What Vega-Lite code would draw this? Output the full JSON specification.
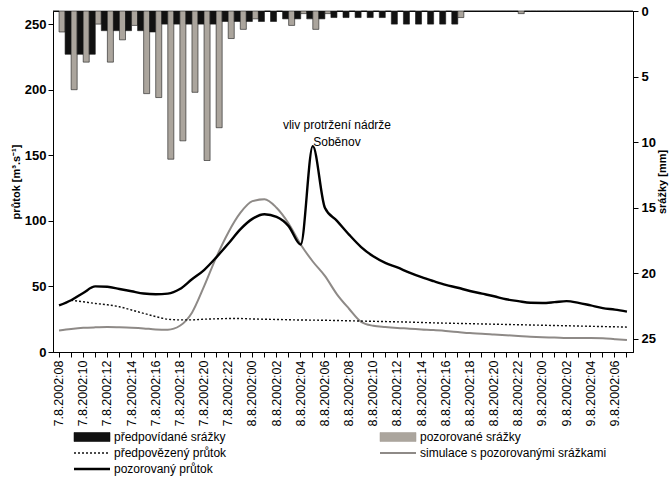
{
  "$schema": "https://vega.github.io/schema/vega-lite/v6.json",
  "width": 580,
  "height": 341,
  "autosize": {"type": "none"},
  "padding": {"left": 53, "top": 11, "right": 37, "bottom": 125},
  "background": "white",
  "config": {
    "font": "Liberation Sans",
    "view": {"stroke": "#000", "strokeWidth": 1},
    "axis": {
      "grid": false,
      "domainColor": "#000",
      "tickColor": "#000",
      "labelColor": "#000",
      "titleColor": "#000",
      "labelFont": "Liberation Sans",
      "titleFont": "Liberation Sans"
    }
  },
  "data": {
    "values": [
      {"t": "7.8.2002:08", "předpovídané srážky": 0, "pozorované srážky": 1.6, "obs": 35.5, "pred": null, "sim": 16.3},
      {"t": "7.8.2002:09", "předpovídané srážky": 3.3, "pozorované srážky": 6.0, "obs": 39.5, "pred": 39.5, "sim": 17.5},
      {"t": "7.8.2002:10", "předpovídané srážky": 3.3, "pozorované srážky": 3.9, "obs": 45, "pred": 38.3, "sim": 18.4},
      {"t": "7.8.2002:11", "předpovídané srážky": 3.3, "pozorované srážky": 1.0, "obs": 50, "pred": 37, "sim": 18.8},
      {"t": "7.8.2002:12", "předpovídané srážky": 1.5, "pozorované srážky": 3.9, "obs": 49.8, "pred": 36, "sim": 19},
      {"t": "7.8.2002:13", "předpovídané srážky": 1.5, "pozorované srážky": 2.2, "obs": 48, "pred": 34.5, "sim": 18.8},
      {"t": "7.8.2002:14", "předpovídané srážky": 1.5, "pozorované srážky": 1.1, "obs": 46.3, "pred": 32, "sim": 18.5},
      {"t": "7.8.2002:15", "předpovídané srážky": 1.5, "pozorované srážky": 6.3, "obs": 44.6, "pred": 29.5, "sim": 18},
      {"t": "7.8.2002:16", "předpovídané srážky": 1.6, "pozorované srážky": 6.6, "obs": 44, "pred": 27, "sim": 17.2},
      {"t": "7.8.2002:17", "předpovídané srážky": 1.0, "pozorované srážky": 11.3, "obs": 44.5, "pred": 25, "sim": 17},
      {"t": "7.8.2002:18", "předpovídané srážky": 1.0, "pozorované srážky": 9.9, "obs": 48, "pred": 24.5, "sim": 20},
      {"t": "7.8.2002:19", "předpovídané srážky": 1.0, "pozorované srážky": 6.2, "obs": 55.5, "pred": 24.5, "sim": 30},
      {"t": "7.8.2002:20", "předpovídané srážky": 1.0, "pozorované srážky": 11.4, "obs": 62.5, "pred": 25, "sim": 50},
      {"t": "7.8.2002:21", "předpovídané srážky": 1.0, "pozorované srážky": 8.9, "obs": 72, "pred": 25.3, "sim": 72},
      {"t": "7.8.2002:22", "předpovídané srážky": 0.8, "pozorované srážky": 2.1, "obs": 82.5, "pred": 25.5, "sim": 91},
      {"t": "7.8.2002:23", "předpovídané srážky": 0.8, "pozorované srážky": 1.4, "obs": 93.5, "pred": 25.5, "sim": 106},
      {"t": "8.8.2002:00", "předpovídané srážky": 0.8, "pozorované srážky": 0.6, "obs": 101.5, "pred": 25.2, "sim": 115},
      {"t": "8.8.2002:01", "předpovídané srážky": 0.8, "pozorované srážky": 0, "obs": 105, "pred": 25, "sim": 116.5},
      {"t": "8.8.2002:02", "předpovídané srážky": 0.8, "pozorované srážky": 0, "obs": 103, "pred": 24.8, "sim": 110},
      {"t": "8.8.2002:03", "předpovídané srážky": 0.6, "pozorované srážky": 1.1, "obs": 96, "pred": 24.6, "sim": 98},
      {"t": "8.8.2002:04", "předpovídané srážky": 0.6, "pozorované srážky": 0.2, "obs": 82, "pred": 24.4, "sim": 82},
      {"t": "8.8.2002:05", "předpovídané srážky": 0.6, "pozorované srážky": 1.4, "obs": 157, "pred": 24.3, "sim": 69},
      {"t": "8.8.2002:06", "předpovídané srážky": 0.6, "pozorované srážky": 0.2, "obs": 110, "pred": 24.2, "sim": 58},
      {"t": "8.8.2002:07", "předpovídané srážky": 0.5, "pozorované srážky": 0, "obs": 100, "pred": 24, "sim": 44},
      {"t": "8.8.2002:08", "předpovídané srážky": 0.5, "pozorované srážky": 0, "obs": 89.5, "pred": 23.8, "sim": 33},
      {"t": "8.8.2002:09", "předpovídané srážky": 0.5, "pozorované srážky": 0, "obs": 80, "pred": 23.6, "sim": 23},
      {"t": "8.8.2002:10", "předpovídané srážky": 0.5, "pozorované srážky": 0, "obs": 73, "pred": 23.4, "sim": 20},
      {"t": "8.8.2002:11", "předpovídané srážky": 0.5, "pozorované srážky": 0, "obs": 68, "pred": 23.2, "sim": 19},
      {"t": "8.8.2002:12", "předpovídané srážky": 1.0, "pozorované srážky": 0, "obs": 64.5, "pred": 23, "sim": 18.3},
      {"t": "8.8.2002:13", "předpovídané srážky": 1.0, "pozorované srážky": 0, "obs": 60.5, "pred": 22.8, "sim": 17.8},
      {"t": "8.8.2002:14", "předpovídané srážky": 1.0, "pozorované srážky": 0, "obs": 57, "pred": 22.5, "sim": 17.2},
      {"t": "8.8.2002:15", "předpovídané srážky": 1.0, "pozorované srážky": 0, "obs": 54, "pred": 22.2, "sim": 16.7},
      {"t": "8.8.2002:16", "předpovídané srážky": 1.0, "pozorované srážky": 0, "obs": 51.2, "pred": 22, "sim": 16},
      {"t": "8.8.2002:17", "předpovídané srážky": 1.0, "pozorované srážky": 0.5, "obs": 49, "pred": 21.8, "sim": 15.2},
      {"t": "8.8.2002:18", "předpovídané srážky": 0, "pozorované srážky": 0, "obs": 46.5, "pred": 21.6, "sim": 14.4},
      {"t": "8.8.2002:19", "předpovídané srážky": 0, "pozorované srážky": 0, "obs": 44.5, "pred": 21.4, "sim": 14},
      {"t": "8.8.2002:20", "předpovídané srážky": 0, "pozorované srážky": 0, "obs": 42.5, "pred": 21.2, "sim": 13.4},
      {"t": "8.8.2002:21", "předpovídané srážky": 0, "pozorované srážky": 0, "obs": 40.2, "pred": 21, "sim": 12.8},
      {"t": "8.8.2002:22", "předpovídané srážky": 0, "pozorované srážky": 0.2, "obs": 38.8, "pred": 20.8, "sim": 12.2},
      {"t": "8.8.2002:23", "předpovídané srážky": 0, "pozorované srážky": 0, "obs": 37.5, "pred": 20.6, "sim": 11.6},
      {"t": "9.8.2002:00", "předpovídané srážky": 0, "pozorované srážky": 0, "obs": 37.4, "pred": 20.4, "sim": 11.2},
      {"t": "9.8.2002:01", "předpovídané srážky": 0, "pozorované srážky": 0, "obs": 38, "pred": 20.2, "sim": 11},
      {"t": "9.8.2002:02", "předpovídané srážky": 0, "pozorované srážky": 0, "obs": 38.8, "pred": 20, "sim": 10.7},
      {"t": "9.8.2002:03", "předpovídané srážky": 0, "pozorované srážky": 0, "obs": 37.5, "pred": 19.8, "sim": 10.6},
      {"t": "9.8.2002:04", "předpovídané srážky": 0, "pozorované srážky": 0, "obs": 35.5, "pred": 19.6, "sim": 10.6},
      {"t": "9.8.2002:05", "předpovídané srážky": 0, "pozorované srážky": 0, "obs": 33.5, "pred": 19.4, "sim": 10.4},
      {"t": "9.8.2002:06", "předpovídané srážky": 0, "pozorované srážky": 0, "obs": 32.3, "pred": 19.2, "sim": 9.8},
      {"t": "9.8.2002:07", "předpovídané srážky": 0, "pozorované srážky": 0, "obs": 30.8, "pred": 19, "sim": 9.2}
    ]
  },
  "layer": [
    {
      "transform": [{"fold": ["předpovídané srážky", "pozorované srážky"], "as": ["rada", "mm"]}],
      "mark": {"type": "bar", "stroke": "#1a1a1a", "strokeWidth": 0.6},
      "encoding": {
        "x": {
          "field": "t",
          "type": "ordinal",
          "scale": {"paddingInner": 0, "paddingOuter": 0},
          "axis": {
            "title": null,
            "labelAngle": -90,
            "labelFontSize": 12.5,
            "labelOverlap": false,
            "labelFlush": false,
            "labelPadding": 3,
            "tickSize": 5,
            "labelExpr": "toNumber(substring(datum.value, length(datum.value) - 2)) % 2 == 0 ? datum.value : ''"
          }
        },
        "xOffset": {
          "field": "rada",
          "type": "nominal",
          "scale": {"domain": ["předpovídané srážky", "pozorované srážky"], "paddingInner": 0, "paddingOuter": 0}
        },
        "y": {
          "field": "mm",
          "type": "quantitative",
          "scale": {"domain": [0, 26], "reverse": true, "nice": false},
          "axis": {
            "orient": "right",
            "values": [0, 5, 10, 15, 20, 25],
            "title": "srážky [mm]",
            "titleAngle": 270,
            "titleFontSize": 11,
            "titleFontWeight": "bold",
            "titlePadding": 12,
            "labelFontSize": 13,
            "labelFontWeight": "bold",
            "labelPadding": 3,
            "tickSize": 5
          }
        },
        "color": {
          "field": "rada",
          "type": "nominal",
          "scale": {
            "domain": ["předpovídané srážky", "předpovězený průtok", "pozorovaný průtok", "pozorované srážky", "simulace s pozorovanými srážkami"],
            "range": ["#111111", "#111111", "#000000", "#aba59d", "#8e8a87"]
          },
          "legend": {
            "title": null,
            "orient": "none",
            "legendX": 20,
            "legendY": 420,
            "direction": "vertical",
            "columns": 2,
            "columnPadding": 149,
            "rowPadding": 4,
            "gridAlign": "each",
            "symbolSize": 100,
            "labelOffset": 29,
            "labelLimit": 400,
            "labelFontSize": 12,
            "labelFont": "Liberation Sans",
            "labelColor": "#000",
            "symbolOpacity": 1,
            "symbolType": {"expr": "indexof(['předpovídané srážky', 'pozorované srážky'], datum.value) >= 0 ? 'M-1,-0.9H6.2V0.9H-1Z' : 'M-1,0H6.2'"},
            "symbolStrokeColor": {"expr": "indexof(['předpovídané srážky', 'pozorované srážky'], datum.value) >= 0 ? '#1a1a1a' : scale('color', datum.value)"},
            "symbolStrokeWidth": {"expr": "datum.value == 'pozorovaný průtok' ? 2.4 : datum.value == 'předpovězený průtok' ? 1.4 : datum.value == 'simulace s pozorovanými srážkami' ? 2 : 0.6"},
            "symbolDash": {"expr": "datum.value == 'předpovězený průtok' ? [2, 2] : [1, 0]"}
          }
        }
      }
    },
    {
      "layer": [
        {
          "mark": {"type": "line", "strokeWidth": 2, "interpolate": "monotone"},
          "encoding": {
            "x": {"field": "t", "type": "ordinal"},
            "y": {
              "field": "sim",
              "type": "quantitative",
              "scale": {"domain": [0, 260], "nice": false},
              "axis": {
                "orient": "left",
                "values": [0, 50, 100, 150, 200, 250],
                "title": "průtok [m³.s⁻¹]",
                "titleFontSize": 11,
                "titleFontWeight": "bold",
                "titlePadding": 3,
                "labelFontSize": 13,
                "labelFontWeight": "bold",
                "labelPadding": 2,
                "tickSize": 5
              }
            },
            "color": {"datum": "simulace s pozorovanými srážkami", "type": "nominal", "legend": null}
          }
        },
        {
          "mark": {"type": "line", "strokeWidth": 1.4, "strokeDash": [2, 2], "interpolate": "monotone"},
          "encoding": {
            "x": {"field": "t", "type": "ordinal"},
            "y": {"field": "pred", "type": "quantitative"},
            "color": {"datum": "předpovězený průtok", "type": "nominal", "legend": null}
          }
        },
        {
          "mark": {"type": "line", "strokeWidth": 2.4, "interpolate": "monotone"},
          "encoding": {
            "x": {"field": "t", "type": "ordinal"},
            "y": {"field": "obs", "type": "quantitative"},
            "color": {"datum": "pozorovaný průtok", "type": "nominal", "legend": null}
          }
        },
        {
          "data": {
            "values": [
              {"t": "8.8.2002:07", "q": 173, "popis": "vliv protržení nádrže"},
              {"t": "8.8.2002:07", "q": 160, "popis": "Soběnov"}
            ]
          },
          "mark": {"type": "text", "fontSize": 12, "font": "Liberation Sans", "color": "#000", "baseline": "middle", "align": "center"},
          "encoding": {
            "x": {"field": "t", "type": "ordinal"},
            "y": {"field": "q", "type": "quantitative"},
            "text": {"field": "popis"}
          }
        }
      ]
    }
  ],
  "resolve": {"scale": {"y": "independent"}}
}
